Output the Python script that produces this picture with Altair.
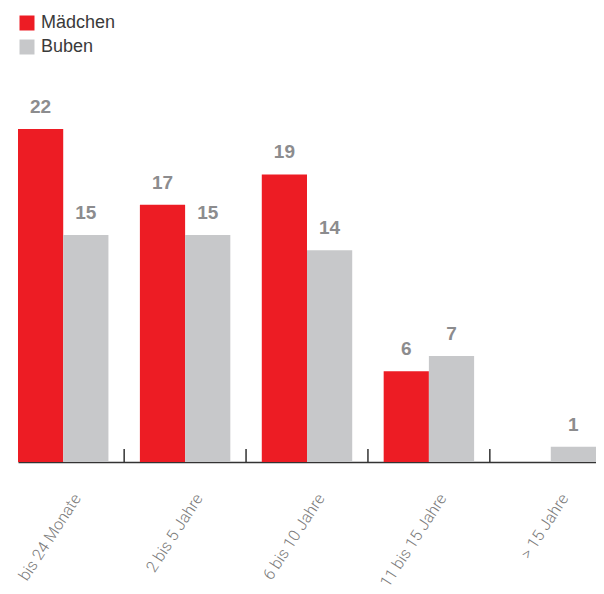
import altair as alt
import pandas as pd

categories = ["bis 24 Monate", "2 bis 5 Jahre", "6 bis 10 Jahre", "11 bis 15 Jahre", "> 15 Jahre"]
series = ["Mädchen", "Buben"]
maedchen = [22, 17, 19, 6, 0]
buben = [15, 15, 14, 7, 1]
colors = ["#ED1C24", "#C7C8CA"]

rows = []
for c, m, b in zip(categories, maedchen, buben):
    rows.append({"cat": c, "series": "Mädchen", "value": m})
    rows.append({"cat": c, "series": "Buben", "value": b})
df = pd.DataFrame(rows)
ticks_df = pd.DataFrame({"cat": categories[:-1]})

W = 578
H = 454
P_INNER = 32 / 124
step = W / (len(categories) - P_INNER)
gap = P_INNER * step

x_scale = alt.Scale(domain=categories, paddingInner=P_INNER, paddingOuter=0)
x_axis = alt.Axis(
    title=None, labelAngle=303, labelFont="Roboto", labelFontWeight=300, labelFontSize=16,
    labelColor="#7A7A7A", labelPadding=33, labelOffset=14, ticks=False, tickSize=0,
    domainColor="#333333", domainWidth=1.5, labelOverlap=False, grid=False,
)
x_enc = alt.X("cat:N", scale=x_scale, axis=x_axis)
xoff = alt.XOffset("series:N", scale=alt.Scale(domain=series, paddingInner=0, paddingOuter=0))
y_enc = alt.Y("value:Q", scale=alt.Scale(domain=[0, 30], nice=False, zero=True), axis=None)

base = alt.Chart(df)

bars = base.mark_bar().encode(
    x=x_enc, xOffset=xoff, y=y_enc,
    color=alt.Color(
        "series:N", scale=alt.Scale(domain=series, range=colors),
        legend=alt.Legend(
            title=None, orient="none", legendX=0, legendY=6, symbolType="square",
            symbolSize=225, symbolStrokeWidth=0, labelFont="Liberation Sans",
            labelFontSize=18, labelColor="#3A3A3A", labelOffset=5, rowPadding=6, padding=0,
        ),
    ),
)

labels = base.transform_filter("datum.value > 0").mark_text(
    dy=-16, baseline="alphabetic", fontSize=19, fontWeight="bold",
    font="Liberation Sans", color="#8C8C8E",
).encode(x=x_enc, xOffset=xoff, y=y_enc, text="value:Q")

rules = alt.Chart(ticks_df).mark_rule(color="#333333", strokeWidth=1.5, xOffset=gap / 2).encode(
    x=alt.X("cat:N", scale=x_scale, axis=x_axis, bandPosition=1),
    y=alt.value(H - 13), y2=alt.value(H),
)

chart = alt.layer(bars, labels, rules).properties(
    width=W, height=H,
    padding={"left": 10, "top": 0, "right": 0, "bottom": 124},
    autosize="none",
).configure_view(stroke=None)

chart.save("out.html", embed_options={"renderer": "svg", "actions": False})
